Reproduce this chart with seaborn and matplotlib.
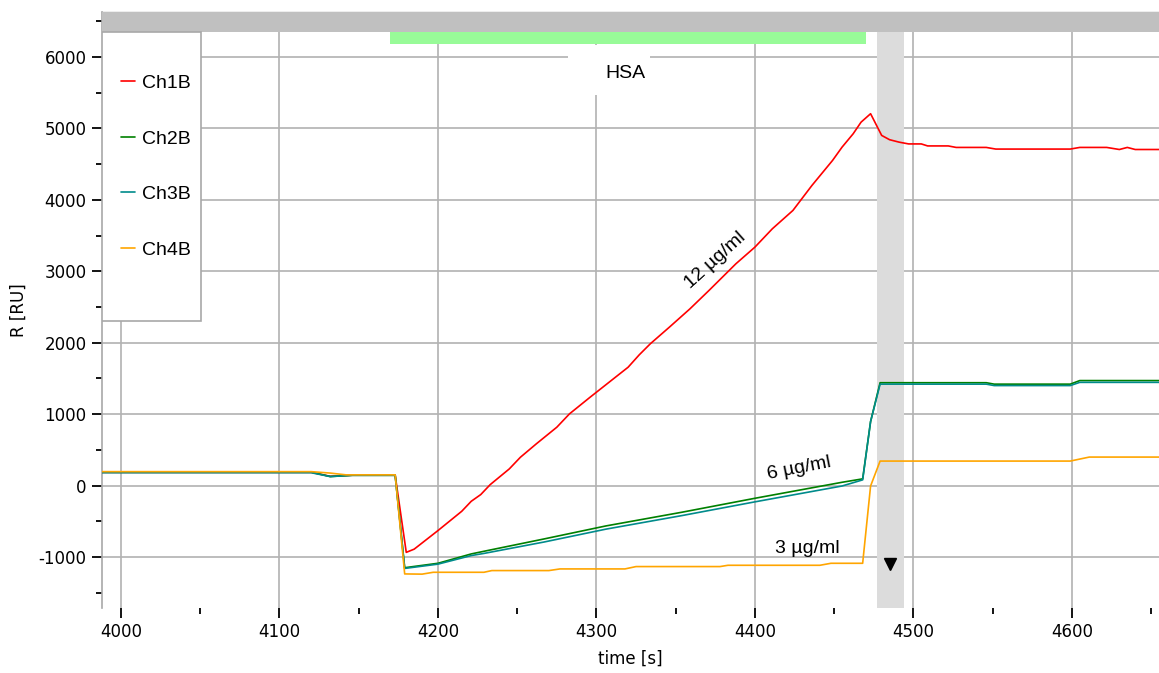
import numpy as np
import pandas as pd
import matplotlib
matplotlib.use("Agg")
import matplotlib.pyplot as plt
from matplotlib.lines import Line2D
from matplotlib.patches import Rectangle
from matplotlib.ticker import MultipleLocator
import seaborn as sns

# ---- sensorgram data (time in s, response in RU) ----
ch1b_time = [3988, 4120, 4132, 4146, 4173, 4180, 4185, 4200, 4215, 4221, 4227, 4233,
             4245, 4252, 4262, 4275, 4283, 4296, 4300, 4312, 4320, 4327, 4334, 4346,
             4359, 4371, 4388, 4400, 4411, 4424, 4436, 4449, 4455, 4462, 4467, 4473,
             4480, 4485, 4491, 4497, 4505, 4509, 4522, 4527, 4546, 4552, 4599, 4605,
             4622, 4630, 4635, 4640, 4655]
ch1b_resp = [185, 185, 130, 145, 145, -935, -890, -630, -360, -220, -126, 14,
             233, 396, 583, 817, 1004, 1237, 1307, 1517, 1657, 1830, 1985, 2217,
             2474, 2731, 3105, 3338, 3595, 3852, 4202, 4552, 4738, 4925, 5088, 5206,
             4902, 4842, 4808, 4783, 4783, 4755, 4755, 4734, 4734, 4711, 4711, 4734,
             4734, 4705, 4734, 4705, 4705]

ch2b_time = [3988, 4120, 4132, 4146, 4173, 4179, 4200, 4221, 4229, 4267, 4306, 4354,
             4400, 4455, 4468, 4473, 4479, 4546, 4551, 4599, 4605, 4655]
ch2b_resp = [190, 190, 126, 144, 144, -1150, -1088, -957, -920, -747, -565, -373,
             -178, 46, 94, 896, 1440, 1440, 1420, 1420, 1470, 1470]

ch3b_time = [3988, 4120, 4132, 4146, 4173, 4179, 4200, 4221, 4229, 4267, 4306, 4354,
             4400, 4455, 4462, 4468, 4473, 4479, 4546, 4551, 4599, 4605, 4655]
ch3b_resp = [180, 180, 126, 144, 144, -1160, -1100, -980, -950, -790, -610, -420,
             -228, -6, 40, 80, 896, 1420, 1420, 1400, 1400, 1445, 1445]

ch4b_time = [3988, 4120, 4132, 4142, 4146, 4173, 4179, 4190, 4197, 4229, 4234, 4270,
             4277, 4318, 4325, 4378, 4383, 4441, 4448, 4468, 4473, 4479, 4599, 4611,
             4655]
ch4b_resp = [195, 195, 175, 150, 150, 150, -1237, -1240, -1214, -1214, -1190, -1190,
             -1167, -1167, -1134, -1134, -1116, -1116, -1088, -1088, -6, 343, 343, 399,
             399]

channels = ["Ch1B", "Ch2B", "Ch3B", "Ch4B"]
colors = ["#ff0000", "#008000", "#008b8b", "#ffa500"]

# injection / regeneration windows
injection_label = "HSA"
injection_start, injection_end = 4170, 4470
regen_start, regen_end = 4477, 4494
marker_time = [4485]
marker_resp = [-1097]

conc_labels = ["12 µg/ml", "6 µg/ml", "3 µg/ml"]
conc_pos_time = [4375, 4428, 4433]
conc_pos_resp = [3150, 235, -880]
conc_rot = [42, 11, 0]

frames = []
for name, t, r in zip(channels,
                      [ch1b_time, ch2b_time, ch3b_time, ch4b_time],
                      [ch1b_resp, ch2b_resp, ch3b_resp, ch4b_resp]):
    frames.append(pd.DataFrame({"time": t, "R": r, "channel": name}))
df = pd.concat(frames, ignore_index=True)

sns.set_style("white")
plt.rcParams["font.family"] = ["DejaVu Sans"]
plt.rcParams["axes.unicode_minus"] = False
for key in ["text.color", "axes.labelcolor", "xtick.color", "ytick.color"]:
    plt.rcParams[key] = "black"

W, H = 1159, 673
fig = plt.figure(figsize=(W / 100, H / 100), dpi=100)
ax = fig.add_axes([102 / W, 1 - 608 / H, 1057 / W, 596 / H])

xmin, xmax = 3988, 4655
ymin, ymax = -1714, 6630
ax.set_xlim(xmin, xmax)
ax.set_ylim(ymin, ymax)

grid_col = "#b2b2b2"
ax.xaxis.set_major_locator(MultipleLocator(100))
ax.xaxis.set_minor_locator(MultipleLocator(50))
ax.yaxis.set_major_locator(MultipleLocator(1000))
ax.yaxis.set_minor_locator(MultipleLocator(500))
ax.grid(True, which="major", color=grid_col, lw=1.2, zorder=0)
ax.set_axisbelow(True)

# regeneration window
ax.axvspan(regen_start, regen_end, ymin=0, ymax=(6370 - ymin) / (ymax - ymin),
           color="#dcdcdc", lw=0, zorder=1)

sns.lineplot(data=df, x="time", y="R", hue="channel", hue_order=channels,
             palette=colors, estimator=None, sort=False, lw=1.2,
             legend=False, ax=ax, zorder=3)

# top header strip and injection bar
ax.axhspan(6350, ymax, color="#c0c0c0", lw=0, zorder=4)
ax.add_patch(Rectangle((injection_start, 6182), injection_end - injection_start, 168,
                       facecolor="#98fb98", edgecolor="none", zorder=4))

# label box for the injected analyte
ax.add_patch(Rectangle((4282, 5466), 52, 700, facecolor="white", edgecolor="none",
                       zorder=2))
ax.text(4318, 5770, injection_label, fontsize=14, family="Liberation Sans",
        ha="center", va="center", zorder=5)

for lab, tx, ry, rot in zip(conc_labels, conc_pos_time, conc_pos_resp, conc_rot):
    ax.text(tx, ry, lab, fontsize=14, family="Liberation Sans", rotation=rot,
            rotation_mode="anchor", ha="center", va="center", zorder=5)

ax.plot(marker_time, marker_resp, marker="v", color="black", ms=9, ls="none", zorder=6)

# legend panel
ax.add_patch(Rectangle((0, 0.482), 0.0937, 0.484, transform=ax.transAxes,
                       facecolor="white", edgecolor="#a8a8a8", lw=1.2, zorder=6))
handles = [Line2D([], [], color=c, lw=1.2) for c in colors]
leg = ax.legend(handles, channels, loc="upper left", bbox_to_anchor=(0.011, 0.908),
                frameon=False, prop={"family": "Liberation Sans", "size": 14},
                handlelength=0.7, handletextpad=0.35, labelspacing=1.95,
                borderaxespad=0)
leg.set_zorder(7)

for side in ["right", "bottom"]:
    ax.spines[side].set_visible(False)
ax.spines["left"].set_color("#a8a8a8")
ax.spines["top"].set_color("#a8a8a8")
ax.spines["left"].set_linewidth(1.2)
ax.spines["top"].set_linewidth(1.0)

ax.tick_params(axis="both", which="major", direction="out", length=7, width=1.3,
               color="black", labelsize=12, pad=4, left=True, bottom=True)
ax.tick_params(axis="both", which="minor", direction="out", length=4, width=1.3,
               color="black", left=True, bottom=True)

ax.set_xlabel("time [s]", fontsize=12, labelpad=6)
ax.set_ylabel("R [RU]", fontsize=12, labelpad=8)

fig.savefig("out.png", dpi=100)
